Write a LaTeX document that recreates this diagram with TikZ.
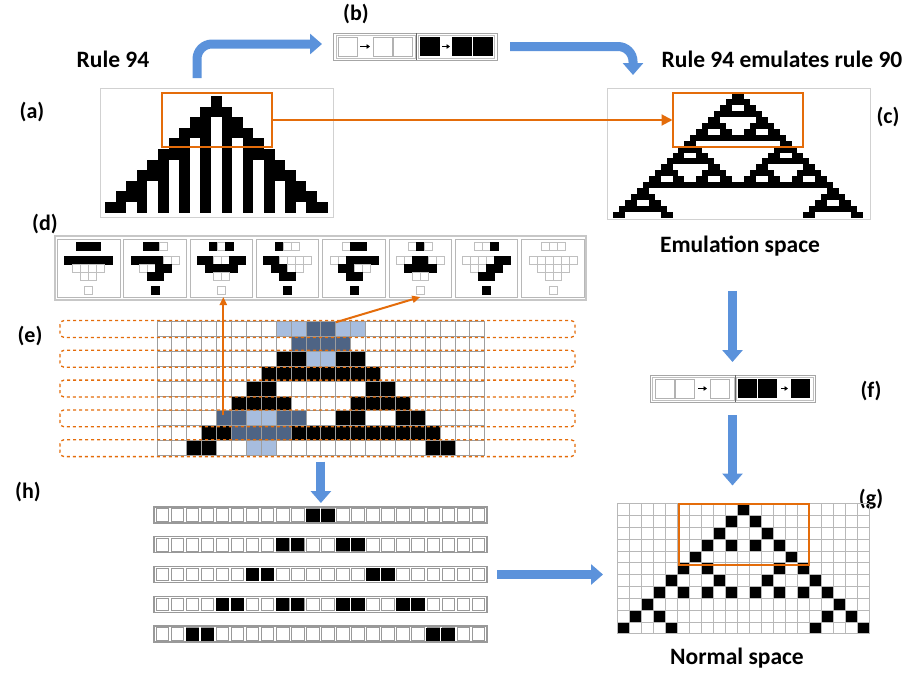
\documentclass[tikz,border=0pt]{standalone}
\usepackage{fontspec}
\setmainfont{Carlito}
\usetikzlibrary{arrows.meta,positioning,calc}

\definecolor{boxorange}{RGB}{228,108,10}
\definecolor{arrowblue}{RGB}{91,146,219}
\definecolor{conecolor}{RGB}{121,155,205}

\begin{document}
\begin{tikzpicture}[
  x=1pt, y=-1pt, >=Latex,
  every node/.style={font=\fontsize{23.5}{26}\selectfont\bfseries},
  panellabel/.style={anchor=base, inner sep=0pt, font=\fontsize{22}{24}\selectfont\bfseries},
  spacename/.style={anchor=base, inner sep=0pt},
  panelframe/.style={draw=black!18, line width=1pt, inner sep=0pt, outer sep=0pt},
  zoombox/.style={draw=boxorange, line width=2pt, inner sep=0pt, outer sep=0pt},
  bluearrow/.style={draw=arrowblue, line width=9pt, -{Triangle[length=12pt,width=20pt]}},
  linkarrow/.style={draw=boxorange, line width=2pt, -{Triangle[length=8pt,width=7pt]}},
  minitip/.style={line width=1.3pt, -{Triangle[length=3.5pt,width=4.5pt]}},
  rowstrip/.style={draw=boxorange, dashed, line width=1.3pt, rounded corners=4pt},
  emptycell/.style={draw=black!30, fill=white, line width=0.8pt},
]
\fill[white] (0,0) rectangle (918,675);
\useasboundingbox (0,0) rectangle (918,675);

% panel letters and titles
\node[panellabel] (la) at (32,118.5) {(a)};
\node[panellabel] (lb) at (356,20.5) {(b)};
\node[panellabel] (lc) at (888,123.5) {(c)};
\node[panellabel] (ld) at (45,230.5) {(d)};
\node[panellabel] (le) at (30,342.5) {(e)};
\node[panellabel] (lf) at (871,397.5) {(f)};
\node[panellabel] (lh) at (28,498.5) {(h)};
\node[panellabel] (lg) at (871,505.5) {(g)};
\node[spacename] (r94) at (113,67) {Rule 94};
\node[spacename] (emul) at (782,67) {Rule 94 emulates rule 90};
\node[spacename] (emu) at (740,252) {Emulation space};
\node[spacename] (norm) at (737,664) {Normal space};

% (a) rule 94 from one cell
\node[panelframe, minimum width=233pt, minimum height=129pt] (a) at (216.5,152.5) {};
\begin{scope}[shift={(105,96)}, scale=10.6]
  \foreach \n in {0,...,10}
    \foreach \j in {0,...,20} {
      \pgfmathtruncatemacro\dist{abs(\j-10)}
      \pgfmathtruncatemacro\isblack{(\dist<=\n) && ((\dist>=\n-1) || (mod(\j,2)==1))}
      \ifnum\isblack=1 \fill (\j,\n) rectangle ++(1,1); \fi
    }
\end{scope}
\node[zoombox, minimum width=110pt, minimum height=54pt] (za) at (217,120) {};

% (c) rule 94 from a 2-block
\node[panelframe, minimum width=263pt, minimum height=131pt] (c) at (738.5,153.5) {};
\begin{scope}[shift={(613,93)}, scale=5.95]
  \foreach \n/\bl in {0/{0},1/{-1,1},2/{-2,2},3/{-3,-1,1,3},4/{-4,4},5/{-5,-3,3,5},
                      6/{-6,-2,2,6},7/{-7,-5,-3,-1,1,3,5,7},8/{-8,8},9/{-9,-7,7,9},10/{-10,-6,6,10}}
    \foreach \b in \bl {
      \fill ({20+2*\b},{2*\n}) rectangle ++(2,1);
      \ifnum\n<10 \fill ({19+2*\b},{2*\n+1}) rectangle ++(4,1); \fi
    }
\end{scope}
\node[zoombox, minimum width=130.5pt, minimum height=54pt] (zc) at (737.75,120) {};
\draw[linkarrow, -{Triangle[length=11pt,width=11pt]}] (za.east) -- (za.east -| zc.west);

% (b) block code
\node[panelframe, draw=black!35, minimum width=164pt, minimum height=27pt] (b) at (415,46.5) {};
\draw[black!25, line width=0.8pt] (336,35) rectangle (415.5,58) (418,35) rectangle (494.5,58);
\draw[black!60, line width=0.8pt] (416.75,33) -- (416.75,60);
\foreach \x in {338,373,393} \draw[emptycell] (\x,37) rectangle ++(19,19);
\foreach \x in {420,452,473} \fill (\x,37) rectangle ++(19.5,19);
\draw[minitip] (360,46.5) -- (370,46.5);
\draw[minitip] (442,46.5) -- (450,46.5);

% (d) the eight light cones
\node[panelframe, draw=black!22, line width=1.5pt, minimum width=531pt, minimum height=64pt] (d) at (320.5,268) {};
\foreach \k/\nb/\ra/\rb/\rc/\res in {
    0/{1,1,1}/{1,1,1,1,1,1}/{0,0,0,0}/{0,0}/0,
    1/{1,1,0}/{1,1,1,1,0,0}/{0,0,1,1}/{1,1}/1,
    2/{1,0,1}/{1,1,0,0,1,1}/{1,1,1,1}/{0,0}/0,
    3/{1,0,0}/{1,1,0,0,0,0}/{1,1,0,0}/{1,1}/1,
    4/{0,1,1}/{0,0,1,1,1,1}/{1,1,0,0}/{1,1}/1,
    5/{0,1,0}/{0,0,1,1,0,0}/{1,1,1,1}/{0,0}/0,
    6/{0,0,1}/{0,0,0,0,1,1}/{0,0,1,1}/{1,1}/1,
    7/{0,0,0}/{0,0,0,0,0,0}/{0,0,0,0}/{0,0}/0} {
  \pgfmathsetmacro\cx{88.75+66.3*\k}
  \node[panelframe, draw=black!28, minimum width=62.5pt, minimum height=58pt] (m\k) at (\cx,268) {};
  \foreach \v [count=\i from 0] in \nb {
    \pgfmathtruncatemacro\pct{100*\v}\pgfmathtruncatemacro\edge{25+75*\v}
    \path[draw=black!\edge, fill=black!\pct, line width=0.6pt] ({\cx-12+8*\i},242) rectangle ++(8,8);
  }
  \foreach \v [count=\i from 0] in \ra {
    \pgfmathtruncatemacro\pct{100*\v}\pgfmathtruncatemacro\edge{25+75*\v}
    \path[draw=black!\edge, fill=black!\pct, line width=0.6pt] ({\cx-24+8*\i},256) rectangle ++(8,8);
  }
  \foreach \v [count=\i from 0] in \rb {
    \pgfmathtruncatemacro\pct{100*\v}\pgfmathtruncatemacro\edge{25+75*\v}
    \path[draw=black!\edge, fill=black!\pct, line width=0.6pt] ({\cx-16+8*\i},264) rectangle ++(8,8);
  }
  \foreach \v [count=\i from 0] in \rc {
    \pgfmathtruncatemacro\pct{100*\v}\pgfmathtruncatemacro\edge{25+75*\v}
    \path[draw=black!\edge, fill=black!\pct, line width=0.6pt] ({\cx-8+8*\i},272) rectangle ++(8,8);
  }
  \pgfmathtruncatemacro\pct{100*\res}\pgfmathtruncatemacro\edge{25+75*\res}
  \path[draw=black!\edge, fill=black!\pct, line width=0.6pt] ({\cx-4},286) rectangle ++(8,8);
}

% (e) rule 94 rows with the two highlighted cones
\node[panelframe, draw=none, minimum width=327.8pt, minimum height=134.1pt] (e) at (320.9,388.55) {};
\begin{scope}[shift={(157,321.5)}, scale=14.9]
  \foreach \r/\cs in {0/{10,11},1/{9,10,11,12},2/{8,9,12,13},3/{7,8,9,10,11,12,13,14},
                      4/{6,7,14,15},5/{5,6,7,8,13,14,15,16},6/{4,5,8,9,12,13,16,17},
                      7/{3,4,5,6,7,8,9,10,11,12,13,14,15,16,17,18},8/{2,3,18,19}}
    \foreach \c in \cs \fill (\c,\r) rectangle ++(1,1);
  \fill[conecolor, fill opacity=0.65] (8,0) -- (14,0) -- (14,1) -- (13,1) -- (13,2) -- (12,2)
    -- (12,3) -- (10,3) -- (10,2) -- (9,2) -- (9,1) -- (8,1) -- cycle;
  \fill[conecolor, fill opacity=0.65] (4,6) -- (10,6) -- (10,7) -- (9,7) -- (9,8) -- (8,8)
    -- (8,9) -- (6,9) -- (6,8) -- (5,8) -- (5,7) -- (4,7) -- cycle;
  \foreach \c in {0,...,22} \draw[black!38, line width=1pt] (\c,0) -- (\c,9);
  \foreach \r in {0,...,9} \draw[black!38, line width=1pt] (0,\r) -- (22,\r);
  \coordinate (cone1) at (12,0.05);
  \coordinate (cone2) at (4.45,6.3);
\end{scope}
\foreach \r in {0,2,4,6,8}
  \draw[rowstrip] (60,{320.5+14.9*\r}) rectangle (575,{337.4+14.9*\r});
\draw[linkarrow] (cone2) -- (cone2 |- m2.south);
\draw[linkarrow] (cone1) -- (m5.south);

% (f) block decoding
\node[panelframe, draw=black!35, minimum width=165pt, minimum height=27pt] (f) at (732.5,388.5) {};
\draw[black!25, line width=0.8pt] (652,377) rectangle (734,400) (736.5,377) rectangle (813,400);
\draw[black!60, line width=0.8pt] (735.2,375) -- (735.2,402);
\foreach \x in {655,675,710} \draw[emptycell] (\x,379) rectangle ++(19,19);
\foreach \x in {738,758,791} \fill (\x,379) rectangle ++(19,19);
\draw[minitip] (698,388.5) -- (707,388.5);
\draw[minitip] (781,388.5) -- (788,388.5);

% (h) decoded rows
\foreach \r/\cs in {1/{10,11},2/{8,9,12,13},3/{6,7,14,15},4/{4,5,8,9,12,13,16,17},5/{2,3,18,19}} {
  \pgfmathsetmacro\ytop{507+29.75*(\r-1)}
  \node[panelframe, draw=black!40, line width=1.2pt, minimum width=333pt, minimum height=16pt,
        anchor=north west] (h\r) at (154,\ytop) {};
  \foreach \c in {0,...,21} \draw[emptycell, draw=black!40] ({156+15.05*\c},{\ytop+1.75}) rectangle ++(12.5,12.5);
  \foreach \c in \cs \fill ({155.5+15.05*\c},{\ytop+1.5}) rectangle ++(13.5,13);
}

% (g) rule 90
\node[panelframe, draw=none, minimum width=252pt, minimum height=130.35pt, anchor=north west] (g) at (617,503.5) {};
\begin{scope}[shift={(617,503.5)}, x=12pt, y=-11.85pt]
  \foreach \n/\bl in {0/{0},1/{-1,1},2/{-2,2},3/{-3,-1,1,3},4/{-4,4},5/{-5,-3,3,5},
                      6/{-6,-2,2,6},7/{-7,-5,-3,-1,1,3,5,7},8/{-8,8},9/{-9,-7,7,9},10/{-10,-6,6,10}}
    \foreach \b in \bl \fill ({10+\b},\n) rectangle ++(1,1);
  \foreach \c in {0,...,21} \draw[black!28, line width=0.8pt] (\c,0) -- (\c,11);
  \foreach \r in {0,...,11} \draw[black!28, line width=0.8pt] (0,\r) -- (21,\r);
\end{scope}
\node[zoombox, minimum width=129.6pt, minimum height=61.5pt] (zg) at (744.2,534.25) {};

% blue flow arrows
\draw[bluearrow, rounded corners=15pt] ([xshift=-19.5pt,yshift=10pt]a.north) |- ([xshift=-11pt,yshift=2.5pt]b.west);
\coordinate (cin) at (633,75);
\draw[bluearrow, rounded corners=15pt] ([xshift=13pt]b.east) -| (cin);
\draw[bluearrow, shorten <=35pt, shorten >=13pt] (f.north |- emu.south) -- (f.north);
\draw[bluearrow, shorten <=13pt, shorten >=18pt] (f.south) -- (f.south |- g.north);
\draw[bluearrow, shorten <=6pt, shorten >=4pt] (e.south) -- (e.south |- h1.north);
\draw[bluearrow, shorten <=10pt, shorten >=14pt] (h3.east) -- (h3.east -| g.west);
\end{tikzpicture}
\end{document}
